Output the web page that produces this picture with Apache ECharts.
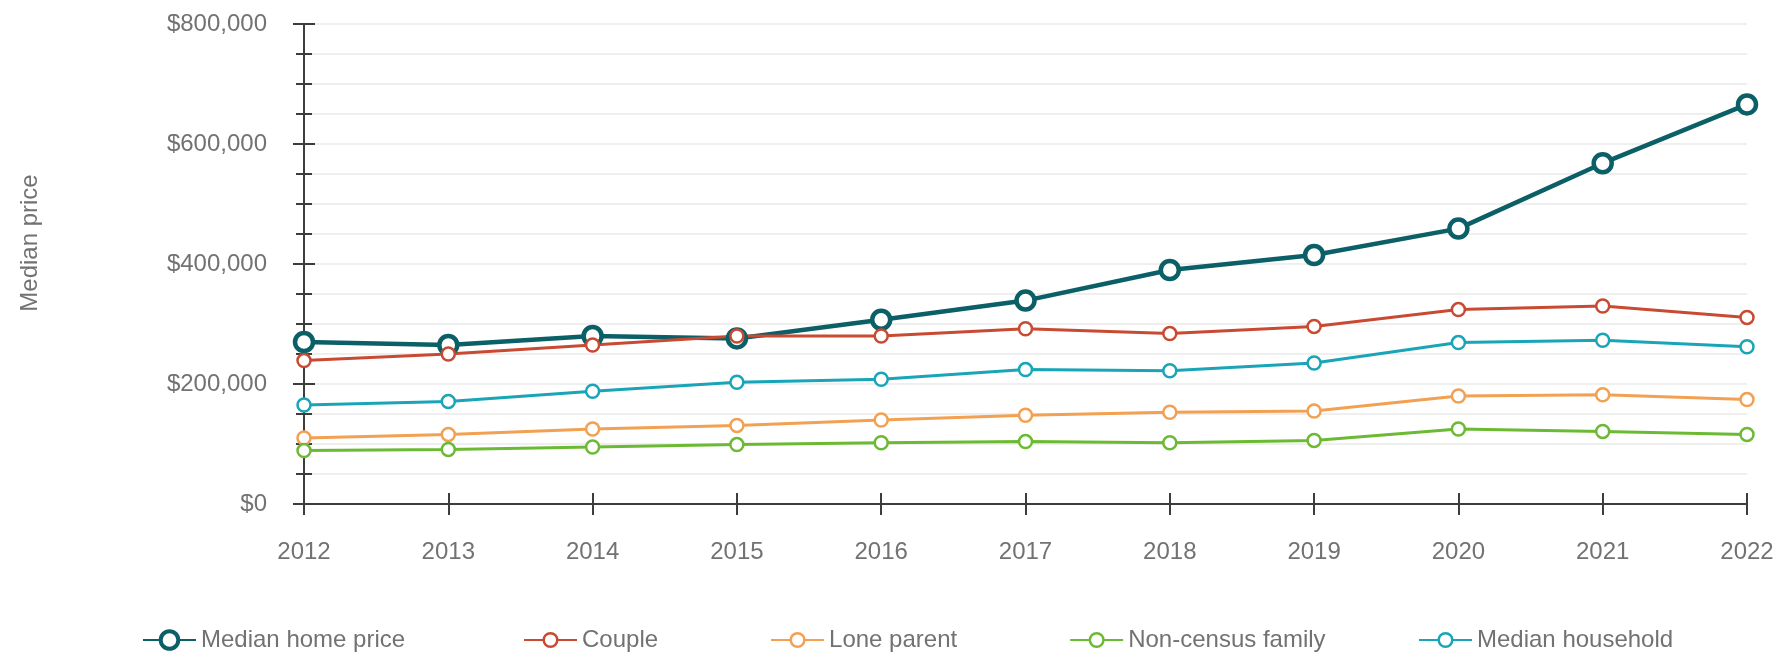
<!DOCTYPE html>
<html>
<head>
    <meta charset="UTF-8"/>
    <title>Median price</title>
    <script src="https://cdn.jsdelivr.net/npm/echarts@6/dist/echarts.min.js"></script>
    <style>
        html, body { margin: 0; padding: 0; background: #fff; }
    </style>
</head>
<body>
<div id="chart" style="width:1783px;height:653px;"></div>

<script>
var years = ['2012', '2013', '2014', '2015', '2016', '2017', '2018', '2019', '2020', '2021', '2022'];
var homePrice      = [270000, 265000, 280000, 276000, 307000, 339000, 390000, 415000, 459000, 568000, 666000];
var couple         = [239000, 250000, 265000, 280000, 280000, 292000, 284000, 296000, 324000, 330000, 311000];
var loneParent     = [110000, 116000, 125000, 131000, 140000, 148000, 153000, 155000, 180000, 182000, 174000];
var nonCensus      = [89000, 91000, 95000, 99000, 102000, 104000, 102000, 106000, 125000, 121000, 116000];
var household      = [165000, 171000, 188000, 203000, 208000, 224000, 222000, 235000, 269000, 273000, 262000];

var textColor = '#727272';
var axisColor = '#3d3d3d';
var font = '"Liberation Sans", Arial, sans-serif';

function money(v) {
    return '$' + v.toString().replace(/\B(?=(\d{3})+(?!\d))/g, ',');
}

// hollow markers: white circle with a coloured border (emptyCircle ignores borderWidth)
function lineSeries(name, data, color, width, border, size) {
    return {
        name: name,
        type: 'line',
        data: data,
        xAxisIndex: 0,
        yAxisIndex: 0,
        symbol: 'circle',
        symbolSize: size,
        showAllSymbol: true,
        lineStyle: { color: color, width: width },
        itemStyle: { color: '#ffffff', borderColor: color, borderWidth: border },
        emphasis: { disabled: true }
    };
}

// legend boxes: the gaps in the original are not all equal, so split it up
function legendBox(left, names, h, bw) {
    return {
        left: left,
        top: 623,
        itemGap: 112,
        itemWidth: 53,
        itemHeight: h,
        itemStyle: { borderWidth: bw },
        textStyle: { color: textColor, fontSize: 24, fontFamily: font },
        data: names
    };
}

var myChart = echarts.init(document.getElementById('chart'));

var option = {
    animation: false,
    textStyle: { fontFamily: font },
    grid: { left: 304, right: 36, top: 24, bottom: 149, containLabel: false },
    legend: [
        legendBox(137, ['Median home price'], 22, 4),
        legendBox(518, ['Couple', 'Lone parent', 'Non-census family'], 17, 2.5),
        legendBox(1413, ['Median household'], 17, 2.5)
    ],
    xAxis: [
        {
            type: 'category',
            data: years,
            boundaryGap: false,
            axisLine: { lineStyle: { color: axisColor, width: 2 } },
            axisTick: { alignWithLabel: true, length: 11, lineStyle: { color: axisColor, width: 2 } },
            axisLabel: { color: textColor, fontSize: 24, margin: 36, fontFamily: font },
            splitLine: { show: false }
        },
        {
            type: 'category',
            data: years,
            position: 'bottom',
            boundaryGap: false,
            axisLine: { show: false },
            axisTick: { inside: true, length: 11, lineStyle: { color: axisColor, width: 2 } },
            axisLabel: { show: false },
            splitLine: { show: false }
        }
    ],
    yAxis: [
        {
            type: 'value',
            min: 0,
            max: 800000,
            interval: 200000,
            name: 'Median price',
            nameLocation: 'middle',
            nameGap: 262,
            nameTextStyle: { color: textColor, fontSize: 24, fontFamily: font, padding: [0, 0, 0, 42] },
            axisLine: { show: true, lineStyle: { color: axisColor, width: 2 } },
            axisTick: { show: true, length: 11, lineStyle: { color: axisColor, width: 2 } },
            minorTick: { show: true, splitNumber: 4, length: 8, lineStyle: { color: axisColor, width: 2 } },
            axisLabel: { color: textColor, fontSize: 24, margin: 37, formatter: money, fontFamily: font },
            splitLine: { show: true, lineStyle: { color: '#efefef', width: 2 } },
            minorSplitLine: { show: true, lineStyle: { color: '#efefef', width: 2 } }
        },
        {
            type: 'value',
            min: 0,
            max: 800000,
            interval: 200000,
            position: 'left',
            axisLine: { show: false },
            axisTick: { show: true, inside: true, length: 11, lineStyle: { color: axisColor, width: 2 } },
            minorTick: { show: true, splitNumber: 4, length: 8, lineStyle: { color: axisColor, width: 2 } },
            axisLabel: { show: false },
            splitLine: { show: false }
        }
    ],
    series: [
        lineSeries('Median home price', homePrice, '#0b5f66', 4.5, 4.5, 18),
        lineSeries('Couple', couple, '#c94a32', 3, 2.5, 13),
        lineSeries('Lone parent', loneParent, '#f2a052', 3, 2.5, 13),
        lineSeries('Non-census family', nonCensus, '#6cba33', 3, 2.5, 13),
        lineSeries('Median household', household, '#19a5b8', 3, 2.5, 13)
    ]
};

myChart.setOption(option);
</script>
</body>
</html>
